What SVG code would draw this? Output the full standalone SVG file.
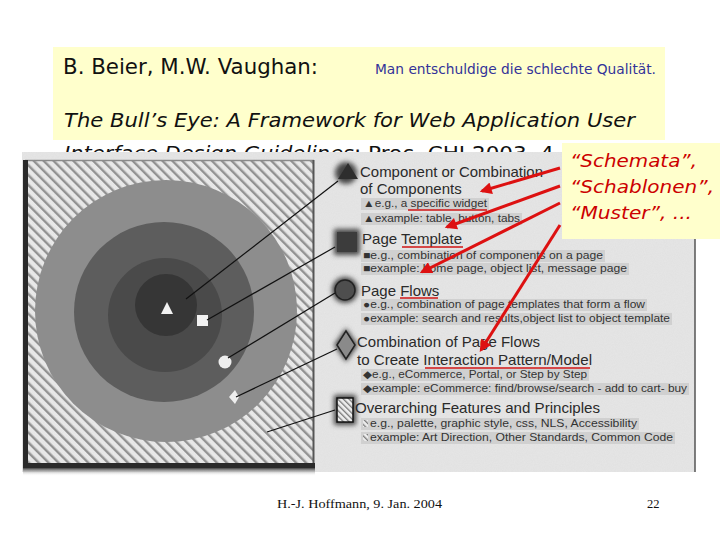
<svg xmlns="http://www.w3.org/2000/svg" width="720" height="540" viewBox="0 0 720 540">
<style>
.hd{font-family:"DejaVu Sans","Liberation Sans",sans-serif;fill:#111}
.sub{font-family:"DejaVu Sans","Liberation Sans",sans-serif;fill:#333399;font-size:14px}
.call{font-family:"DejaVu Sans","Liberation Sans",sans-serif;font-style:italic;fill:#cc0000;font-size:18.5px}
.h{font-family:"Liberation Sans",Arial,sans-serif;font-size:15px;fill:#2a2a2a}
.s{font-family:"Liberation Sans","DejaVu Sans",Arial,sans-serif;font-size:10.5px;fill:#333}
.hl{fill:#d0d0d0}
.lead{stroke:#111;stroke-width:1.2;fill:none}
.red{stroke:#dd1111;stroke-width:3;fill:none;marker-end:url(#ah)}
.ul{stroke:#d01515;stroke-width:1.6}
.ft{font-family:"Liberation Serif","Times New Roman",serif;font-size:12.5px;fill:#111}
.halo{fill:#444;filter:url(#blur)}
</style>
<defs>
<clipPath id="cut"><rect x="0" y="130" width="720" height="22"/></clipPath>
<pattern id="hatch" width="7" height="7" patternUnits="userSpaceOnUse" patternTransform="rotate(-45)">
<rect width="7" height="7" fill="#ececec"/>
<rect x="0" y="0" width="2.4" height="7" fill="#8e8e8e"/>
</pattern>
<pattern id="hatchS" width="4" height="4" patternUnits="userSpaceOnUse" patternTransform="rotate(-45)">
<rect width="4" height="4" fill="#eeeeee"/>
<rect x="0" y="0" width="1.3" height="4" fill="#777"/>
</pattern>
<filter id="blur" x="-50%" y="-50%" width="200%" height="200%"><feGaussianBlur stdDeviation="2.6"/></filter>
<filter id="grain" x="0" y="0" width="100%" height="100%">
<feTurbulence type="fractalNoise" baseFrequency="0.9" numOctaves="2" seed="3" result="n"/>
<feColorMatrix type="matrix" values="0 0 0 0 0.5  0 0 0 0 0.5  0 0 0 0 0.5  0 0 0 0.35 0" in="n"/>
</filter>
<linearGradient id="shadowB" x1="0" y1="0" x2="0" y2="1">
<stop offset="0" stop-color="#444"/><stop offset="1" stop-color="#fff" stop-opacity="0"/>
</linearGradient>
<linearGradient id="lineFade" x1="0" y1="0" x2="1" y2="0">
<stop offset="0" stop-color="#555"/><stop offset="0.3" stop-color="#aaa"/><stop offset="0.7" stop-color="#333"/><stop offset="1" stop-color="#666"/>
</linearGradient>
<marker id="ah" viewBox="0 0 10 10" refX="8" refY="5" markerWidth="4.6" markerHeight="4" orient="auto">
<path d="M0,0 L10,5 L0,10 z" fill="#dd1111"/>
</marker>
</defs>

<rect width="720" height="540" fill="#ffffff"/>

<!-- header -->
<g id="header">
<rect x="53" y="47" width="612" height="93" fill="#ffffcc"/>
<text class="hd" x="63" y="74" font-size="21" textLength="255" lengthAdjust="spacingAndGlyphs">B. Beier, M.W. Vaughan:</text>
<text class="sub" x="375" y="74" textLength="281" lengthAdjust="spacingAndGlyphs">Man entschuldige die schlechte Qualität.</text>
<text class="hd" x="64" y="127" font-size="20" font-style="italic" textLength="571" lengthAdjust="spacingAndGlyphs">The Bull’s Eye: A Framework for Web Application User</text>
<g clip-path="url(#cut)">
<text class="hd" x="64" y="160" font-size="20" font-style="italic" textLength="290" lengthAdjust="spacingAndGlyphs">Interface Design Guidelines</text>
<text class="hd" x="354" y="160" font-size="20" textLength="200" lengthAdjust="spacingAndGlyphs">; Proc. CHI 2003, 4</text>
</g>
</g>

<!-- scanned figure -->
<g id="scan">
<rect x="22" y="152" width="673" height="320" fill="#e6e6e6"/>
<rect x="22" y="152" width="673" height="320" filter="url(#grain)" opacity="0.35"/>
<rect x="27" y="161" width="286" height="302" fill="url(#hatch)"/>
<rect x="27" y="161" width="286" height="302" filter="url(#grain)" opacity="0.5"/>
<line x1="25" y1="160.5" x2="314" y2="160.5" stroke="#8a8a8a" stroke-width="1.5"/>
<rect x="23" y="160" width="5" height="308" fill="#2a2a2a"/>
<line x1="313.5" y1="160" x2="313.5" y2="468" stroke="#555" stroke-width="2"/>
<rect x="23" y="463" width="292" height="5" fill="#2a2a2a"/>
<rect x="23" y="468" width="292" height="8" fill="url(#shadowB)"/>
<line x1="22" y1="472" x2="695" y2="472" stroke="url(#lineFade)" stroke-width="2"/>
<line x1="695" y1="236" x2="695" y2="472" stroke="#555" stroke-width="1.5"/>
</g>

<g id="bullseye">
<circle cx="166" cy="311" r="131" fill="#8d8d8d"/>
<circle cx="164" cy="312" r="90" fill="#5d5d5d"/>
<circle cx="165" cy="315" r="57" fill="#4a4a4a"/>
<circle cx="166" cy="305" r="31" fill="#363636"/>
<polygon points="167,302 161,314 173,314" fill="#f2f2f2"/>
<rect x="197" y="315" width="11" height="11" fill="#f2f2f2"/>
<circle cx="225" cy="362" r="6.5" fill="#eeeeee"/>
<polygon points="235,390 229,397 235,404 239,397" fill="#eeeeee"/>
</g>

<!-- legend nodes -->
<g id="n-component">
<circle cx="346" cy="173" r="11" class="halo"/>
<polygon points="348,163 338,179 358,179" fill="#2e2e2e"/>
<text class="h" x="360" y="177" textLength="183" lengthAdjust="spacingAndGlyphs">Component or Combination</text>
<text class="h" x="360" y="194">of Components</text>
<rect class="hl" x="361" y="198" width="128" height="12"/>
<rect class="hl" x="361" y="213" width="161" height="12"/>
<text class="s" x="363" y="207" textLength="124" lengthAdjust="spacingAndGlyphs">▲e.g., a specific widget</text>
<text class="s" x="363" y="222" textLength="157" lengthAdjust="spacingAndGlyphs">▲example: table, button, tabs</text>
<line class="ul" x1="408" y1="210" x2="487" y2="210"/>
</g>

<g id="n-template">
<rect x="334" y="229" width="26" height="26" class="halo"/>
<rect x="337" y="232" width="20" height="20" fill="#3c3c3c"/>
<text class="h" x="362" y="244" textLength="100" lengthAdjust="spacingAndGlyphs">Page Template</text>
<line class="ul" x1="402" y1="247" x2="463" y2="247"/>
<rect class="hl" x="361" y="250" width="244" height="12"/>
<rect class="hl" x="361" y="263" width="268" height="12"/>
<text class="s" x="363" y="259" textLength="240" lengthAdjust="spacingAndGlyphs">■e.g., combination of components on a page</text>
<text class="s" x="363" y="272" textLength="264" lengthAdjust="spacingAndGlyphs">■example: home page, object list, message page</text>
</g>

<g id="n-flows">
<circle cx="345" cy="290" r="13" class="halo"/>
<circle cx="345" cy="290" r="10" fill="#4e4e4e" stroke="#222" stroke-width="1.5"/>
<text class="h" x="361" y="296">Page Flows</text>
<line class="ul" x1="400" y1="298" x2="438" y2="298"/>
<rect class="hl" x="361" y="299" width="286" height="12"/>
<rect class="hl" x="361" y="313" width="311" height="12"/>
<text class="s" x="363" y="308" textLength="282" lengthAdjust="spacingAndGlyphs">●e.g., combination of page templates that form a flow</text>
<text class="s" x="363" y="322" textLength="307" lengthAdjust="spacingAndGlyphs">●example: search and results,object list to object template</text>
</g>

<g id="n-pattern">
<polygon points="346,328 358,345 346,362 334,345" class="halo"/>
<polygon points="346,331 355,345 346,359 337,345" fill="#8a8a8a" stroke="#222" stroke-width="1.5"/>
<text class="h" x="357" y="347" textLength="183" lengthAdjust="spacingAndGlyphs">Combination of Page Flows</text>
<text class="h" x="357" y="365" textLength="235" lengthAdjust="spacingAndGlyphs">to Create Interaction Pattern/Model</text>
<line class="ul" x1="425" y1="368" x2="590" y2="368" stroke-width="2.6"/>
<rect class="hl" x="361" y="369" width="228" height="12"/>
<rect class="hl" x="361" y="383" width="328" height="12"/>
<text class="s" x="363" y="378" textLength="224" lengthAdjust="spacingAndGlyphs">◆e.g., eCommerce, Portal, or Step by Step</text>
<text class="s" x="363" y="392" textLength="324" lengthAdjust="spacingAndGlyphs">◆example: eCommerce: find/browse/search - add to cart- buy</text>
</g>

<g id="n-overarching">
<rect x="334" y="395" width="22" height="30" class="halo"/>
<rect x="337" y="398" width="16" height="24" fill="url(#hatchS)" stroke="#111" stroke-width="1.5"/>
<text class="h" x="355" y="413" textLength="245" lengthAdjust="spacingAndGlyphs">Overarching Features and Principles</text>
<rect class="hl" x="361" y="418" width="278" height="12"/>
<rect class="hl" x="361" y="432" width="314" height="12"/>
<rect x="363" y="420" width="5" height="7" fill="url(#hatchS)"/>
<rect x="363" y="434" width="5" height="7" fill="url(#hatchS)"/>
<text class="s" x="370" y="427" textLength="267" lengthAdjust="spacingAndGlyphs">e.g., palette, graphic style, css, NLS, Accessibility</text>
<text class="s" x="370" y="441" textLength="303" lengthAdjust="spacingAndGlyphs">example: Art Direction, Other Standards, Common Code</text>
</g>

<!-- callout -->
<g id="callout">
<rect x="562" y="143" width="158" height="96" fill="#ffffcc"/>
<text class="call" x="570" y="167" textLength="127" lengthAdjust="spacingAndGlyphs">“Schemata”,</text>
<text class="call" x="570" y="193" textLength="144" lengthAdjust="spacingAndGlyphs">“Schablonen”,</text>
<text class="call" x="570" y="219" textLength="122" lengthAdjust="spacingAndGlyphs">“Muster”, ...</text>
</g>

<!-- connectors -->
<g id="connectors">
<line class="lead" x1="338" y1="181" x2="186" y2="299"/>
<line class="lead" x1="335" y1="247" x2="207" y2="320"/>
<line class="lead" x1="335" y1="293" x2="228" y2="358"/>
<line class="lead" x1="337" y1="349" x2="236" y2="397"/>
<line class="lead" x1="335" y1="410" x2="267" y2="432"/>
<line class="red" x1="560" y1="168" x2="482" y2="191"/>
<line class="red" x1="560" y1="186" x2="447" y2="227"/>
<line class="red" x1="560" y1="203" x2="422" y2="272"/>
<line class="red" x1="560" y1="225" x2="481" y2="350"/>
</g>

<g id="footer">
<text class="ft" x="277" y="508" textLength="165" lengthAdjust="spacingAndGlyphs">H.-J. Hoffmann,  9. Jan. 2004</text>
<text class="ft" x="647" y="508">22</text>
</g>
</svg>
